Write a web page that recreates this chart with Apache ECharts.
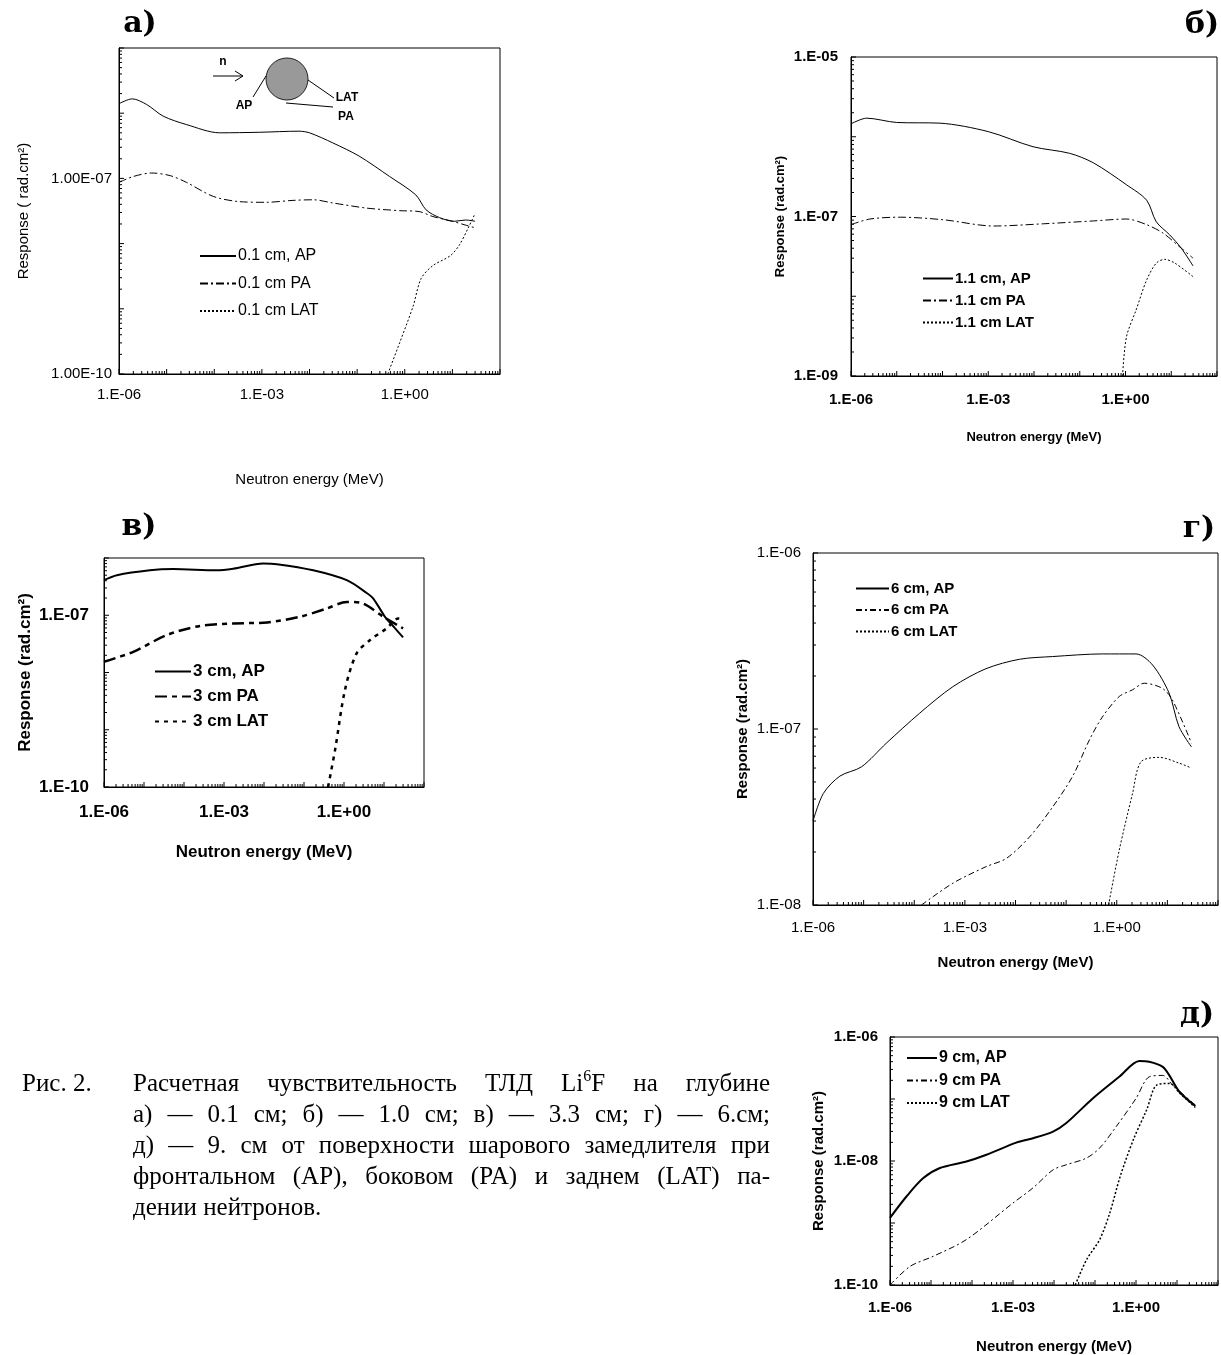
<!DOCTYPE html>
<html>
<head>
<meta charset="utf-8">
<script src="https://cdn.jsdelivr.net/npm/echarts@6/dist/echarts.min.js"></script>
<style>
  html, body { margin: 0; padding: 0; background: #fff; }
  #chart { position: absolute; left: 0; top: 0; width: 1221px; height: 1355px; }
  #caption { position: absolute; left: 0; top: 1067px; width: 1221px; font-family: 'Liberation Serif', 'DejaVu Serif', serif; font-size: 25px; line-height: 31px; color: #000; }
  #caption .fig { position: absolute; left: 22px; top: 0; white-space: nowrap; }
  #caption .body { position: absolute; left: 133px; top: 0; width: 637px; }
  #caption .j { text-align: justify; text-align-last: justify; }
  #caption sup { font-size: 16px; line-height: 0; vertical-align: 10px; }
</style>
</head>
<body>
<div id="chart"></div>
<div id="caption">
  <div class="fig">Рис. 2.</div>
  <div class="body">
    <div class="j">Расчетная чувствительность ТЛД Li<sup>6</sup>F на глубине</div>
    <div class="j">а) — 0.1 см; б) — 1.0 см; в) — 3.3 см; г) — 6.см;</div>
    <div class="j">д) — 9. см от поверхности шарового замедлителя при</div>
    <div class="j">фронтальном (AP), боковом (PA) и заднем (LAT) па-</div>
    <div>дении нейтронов.</div>
  </div>
</div>
<script>
// energy axis, shared by all panels (MeV)
const xMin = 1e-6, xMax = 1e2;
const xTickValues = [1e-6, 1e-3, 1e0];
const xTickLabels = ['1.E-06', '1.E-03', '1.E+00'];

// а) 0.1 cm
const aYTicks = [1e-10, 1e-7];
const aYLabels = ['1.00E-10', '1.00E-07'];
const aApE = [1.0e-6, 1.9e-6, 3.8e-6, 8.5e-6, 2.6e-5, 1.3e-4, 9e-4, 6e-3, 1e-2, 3.1e-2, 0.11, 0.48, 1.7, 2.8, 5.4, 11, 19, 30];
const aApR = [1.4e-6, 1.66e-6, 1.36e-6, 9.0e-7, 6.7e-7, 5.0e-7, 5.1e-7, 5.3e-7, 5.0e-7, 3.5e-7, 2.2e-7, 1.07e-7, 5.6e-8, 3.3e-8, 2.5e-8, 2.2e-8, 2.3e-8, 2.2e-8];
const aPaE = [1.0e-6, 2e-6, 4.8e-6, 1.2e-5, 2.6e-5, 9.5e-5, 3.4e-4, 1.25e-3, 4.5e-3, 1.2e-2, 3.1e-2, 0.16, 0.78, 2.0, 3.9, 10, 20, 30];
const aPaR = [8.7e-8, 1.07e-7, 1.21e-7, 1.10e-7, 8.7e-8, 5.3e-8, 4.4e-8, 4.3e-8, 4.6e-8, 4.7e-8, 4.2e-8, 3.5e-8, 3.2e-8, 3.1e-8, 2.6e-8, 2.2e-8, 1.9e-8, 1.75e-8];
const aLatE = [0.44, 0.78, 1.5, 2.2, 3.9, 9, 14, 22, 30];
const aLatR = [1.0e-10, 3.0e-10, 1.1e-9, 2.9e-9, 4.6e-9, 6.5e-9, 9.5e-9, 1.8e-8, 2.9e-8];

// б) 1.1 cm
const bYTicks = [1e-9, 1e-7, 1e-5];
const bYLabels = ['1.E-09', '1.E-07', '1.E-05'];
const bApE = [1e-6, 2.2e-6, 1e-5, 8.8e-5, 1e-3, 9.5e-3, 6e-2, 0.2, 1.05, 2.9, 4.7, 9.2, 16.6, 30];
const bApR = [1.45e-6, 1.71e-6, 1.51e-6, 1.48e-6, 1.16e-6, 7.5e-7, 6.2e-7, 4.7e-7, 2.5e-7, 1.6e-7, 8.6e-8, 5.9e-8, 4.0e-8, 2.4e-8];
const bPaE = [1e-6, 2.6e-6, 1.2e-5, 1.05e-4, 1.3e-3, 1.6e-2, 0.2, 1.05, 2.9, 6.6, 15, 30];
const bPaR = [7.9e-8, 9.3e-8, 9.8e-8, 9.1e-8, 7.6e-8, 8.1e-8, 8.8e-8, 9.3e-8, 7.9e-8, 6.2e-8, 4.2e-8, 3.0e-8];
const bLatE = [0.86, 1.05, 1.7, 2.9, 4.7, 7.2, 12, 30];
const bLatR = [1e-9, 3.1e-9, 6.7e-9, 1.6e-8, 2.6e-8, 2.9e-8, 2.6e-8, 1.76e-8];

// в) 3 cm
const cYTicks = [1e-10, 1e-7];
const cYLabels = ['1.E-10', '1.E-07'];
const cApE = [1e-6, 2.1e-6, 1.4e-5, 5.4e-5, 6.5e-4, 1.7e-3, 9.6e-3, 2.1e-2, 0.17, 1.17, 3.7, 5.4, 10.6, 19, 30];
const cApR = [4.1e-7, 5.0e-7, 6.1e-7, 6.4e-7, 6.1e-7, 6.5e-7, 8.0e-7, 7.8e-7, 6.1e-7, 4.1e-7, 2.45e-7, 1.96e-7, 9.4e-8, 5.9e-8, 4.1e-8];
const cPaE = [1e-6, 5.4e-6, 3.7e-5, 2.5e-4, 1.7e-3, 1.2e-2, 7.9e-2, 0.37, 1.17, 3.0, 9.6, 30];
const cPaR = [1.54e-8, 2.3e-8, 4.5e-8, 6.5e-8, 7.2e-8, 7.5e-8, 9.4e-8, 1.31e-7, 1.71e-7, 1.6e-7, 9.4e-8, 5.9e-8];
const cLatE = [0.40, 0.6, 1.06, 2.07, 4.5, 11.7, 22.8, 30];
const cLatR = [1e-10, 4.5e-10, 5.0e-9, 2.16e-8, 3.7e-8, 5.9e-8, 8.8e-8, 8.6e-8];

// г) 6 cm
const dYTicks = [1e-8, 1e-7, 1e-6];
const dYLabels = ['1.E-08', '1.E-07', '1.E-06'];
const dApE = [1e-6, 1.6e-6, 3.4e-6, 9.1e-6, 2.8e-5, 1.28e-4, 5.8e-4, 2.6e-3, 1.2e-2, 5.4e-2, 0.52, 2.4, 5.1, 10.8, 17, 30];
const dApR = [3.0e-8, 4.3e-8, 5.4e-8, 6.1e-8, 8.3e-8, 1.23e-7, 1.74e-7, 2.2e-7, 2.49e-7, 2.58e-7, 2.67e-7, 2.67e-7, 2.31e-7, 1.6e-7, 1.03e-7, 7.9e-8];
const dPaE = [1.39e-4, 5.8e-4, 2.6e-3, 6.6e-3, 1.9e-2, 5.4e-2, 0.135, 0.29, 0.52, 1.12, 2.05, 3.5, 8.0, 12.6, 30];
const dPaR = [1e-8, 1.33e-8, 1.65e-8, 1.84e-8, 2.44e-8, 3.6e-8, 5.4e-8, 8.7e-8, 1.17e-7, 1.53e-7, 1.67e-7, 1.82e-7, 1.7e-7, 1.46e-7, 8.3e-8];
const dLatE = [0.69, 1.12, 2.05, 3.0, 6.9, 17, 30];
const dLatR = [1e-8, 2.05e-8, 4.3e-8, 6.5e-8, 6.9e-8, 6.4e-8, 6.0e-8];

// д) 9 cm
const eYTicks = [1e-10, 1e-8, 1e-6];
const eYLabels = ['1.E-10', '1.E-08', '1.E-06'];
const eApE = [1e-6, 2.55e-6, 6.5e-6, 1.65e-5, 7.3e-5, 2.25e-4, 1.2e-3, 3.1e-3, 9.5e-3, 2e-2, 8.8e-2, 0.39, 1.21, 2.1, 4.5, 6.5, 11.4, 28];
const eApR = [1.21e-9, 2.7e-9, 5.3e-9, 7.7e-9, 9.8e-9, 1.26e-8, 1.98e-8, 2.33e-8, 2.98e-8, 4.1e-8, 1.02e-7, 2.28e-7, 4.1e-7, 4.0e-7, 3.3e-7, 2.4e-7, 1.31e-7, 7.7e-8];
const ePaE = [1e-6, 3.1e-6, 1.13e-5, 7.3e-5, 1e-3, 3.1e-3, 9.5e-3, 2e-2, 6.1e-2, 0.129, 0.33, 1.0, 2.1, 4.5, 7.8, 28];
const ePaR = [1e-10, 2.0e-10, 2.9e-10, 5.4e-10, 2.1e-9, 3.7e-9, 7.2e-9, 8.7e-9, 1.11e-8, 1.61e-8, 3.6e-8, 1.02e-7, 2.28e-7, 2.4e-7, 1.68e-7, 8.0e-8];
const eLatE = [3.3e-2, 6.3e-2, 0.13, 0.23, 0.41, 0.86, 1.82, 3.2, 6.7, 11.8, 28];
const eLatR = [1e-10, 2.6e-10, 5.4e-10, 1.46e-9, 5.6e-9, 2.2e-8, 6.7e-8, 1.68e-7, 1.78e-7, 1.23e-7, 7.3e-8];

const SANS = 'Liberation Sans, Arial, sans-serif';
const SERIF = 'DejaVu Serif, Liberation Serif, serif';

const panels = [
  {
    letter: 'а)', letterPos: [140, 24],
    grid: { left: 119, top: 48, width: 381, height: 326 },
    yMin: 1e-10, yMax: 1e-5, yTicks: aYTicks, yLabels: aYLabels,
    labelFont: { fontSize: 15, fontWeight: 'normal' }, xMargin: 13, yMargin: 7,
    xNameGap: 98, yName: 'Response ( rad.cm²)', yNameGap: 88,
    nameFont: { fontSize: 15, fontWeight: 'normal' },
    legend: { left: 199, top: 248, itemWidth: 36, itemGap: 11.5, fontSize: 16, fontWeight: 'normal' },
    lines: [
      { name: '0.1 cm, AP', x: aApE, y: aApR, type: 'solid', width: 1 },
      { name: '0.1 cm PA', x: aPaE, y: aPaR, type: [8, 3, 2, 3], width: 1 },
      { name: '0.1 cm LAT', x: aLatE, y: aLatR, type: [2, 2], width: 1 }
    ]
  },
  {
    letter: 'б)', letterPos: [1202, 25],
    grid: { left: 851, top: 57, width: 366, height: 319 },
    yMin: 1e-9, yMax: 1e-5, yTicks: bYTicks, yLabels: bYLabels,
    labelFont: { fontSize: 15, fontWeight: 'bold' }, xMargin: 16, yMargin: 13,
    xNameGap: 55, yName: 'Response (rad.cm²)', yNameGap: 64,
    nameFont: { fontSize: 13, fontWeight: 'bold' },
    legend: { left: 922, top: 271, itemWidth: 30, itemGap: 7, fontSize: 15, fontWeight: 'bold' },
    lines: [
      { name: '1.1 cm, AP', x: bApE, y: bApR, type: 'solid', width: 1 },
      { name: '1.1 cm PA', x: bPaE, y: bPaR, type: [8, 3, 2, 3], width: 1 },
      { name: '1.1 cm LAT', x: bLatE, y: bLatR, type: [2, 2], width: 1 }
    ]
  },
  {
    letter: 'в)', letterPos: [139, 527],
    grid: { left: 104, top: 558, width: 320, height: 229 },
    yMin: 1e-10, yMax: 1e-6, yTicks: cYTicks, yLabels: cYLabels,
    labelFont: { fontSize: 17, fontWeight: 'bold' }, xMargin: 17, yMargin: 15,
    xNameGap: 57, yName: 'Response (rad.cm²)', yNameGap: 70,
    nameFont: { fontSize: 17, fontWeight: 'bold' },
    legend: { left: 154, top: 663, itemWidth: 36, itemGap: 8, fontSize: 17, fontWeight: 'bold' },
    lines: [
      { name: '3 cm, AP', x: cApE, y: cApR, type: 'solid', width: 2 },
      { name: '3 cm PA', x: cPaE, y: cPaR, type: [12, 5, 5, 5], width: 2.5 },
      { name: '3 cm LAT', x: cLatE, y: cLatR, type: [4, 5], width: 2.5 }
    ]
  },
  {
    letter: 'г)', letterPos: [1199, 529],
    grid: { left: 813, top: 553, width: 406, height: 352 },
    yMin: 1e-8, yMax: 1e-6, yTicks: dYTicks, yLabels: dYLabels,
    labelFont: { fontSize: 15, fontWeight: 'normal' }, xMargin: 15, yMargin: 12,
    xNameGap: 50, yName: 'Response (rad.cm²)', yNameGap: 63,
    nameFont: { fontSize: 15, fontWeight: 'bold' },
    legend: { left: 855, top: 581, itemWidth: 33, itemGap: 6.5, fontSize: 15, fontWeight: 'bold' },
    lines: [
      { name: '6 cm, AP', x: dApE, y: dApR, type: 'solid', width: 1 },
      { name: '6 cm PA', x: dPaE, y: dPaR, type: [6, 3, 2, 3], width: 1 },
      { name: '6 cm LAT', x: dLatE, y: dLatR, type: [2, 2], width: 1 }
    ]
  },
  {
    letter: 'д)', letterPos: [1197, 1015],
    grid: { left: 890, top: 1037, width: 328, height: 249 },
    yMin: 1e-10, yMax: 1e-6, yTicks: eYTicks, yLabels: eYLabels,
    labelFont: { fontSize: 15, fontWeight: 'bold' }, xMargin: 15, yMargin: 12,
    xNameGap: 54, yName: 'Response (rad.cm²)', yNameGap: 64,
    nameFont: { fontSize: 15, fontWeight: 'bold' },
    legend: { left: 906, top: 1050, itemWidth: 30, itemGap: 6.5, fontSize: 16, fontWeight: 'bold' },
    lines: [
      { name: '9 cm, AP', x: eApE, y: eApR, type: 'solid', width: 2 },
      { name: '9 cm PA', x: ePaE, y: ePaR, type: [6, 3, 2, 3], width: 1 },
      { name: '9 cm LAT', x: eLatE, y: eLatR, type: [2, 2], width: 1.5 }
    ]
  }
];

function labelFor(v, vals, labels) {
  const lv = Math.log10(v);
  for (let i = 0; i < vals.length; i++) {
    if (Math.abs(Math.log10(vals[i]) - lv) < 1e-6) return labels[i];
  }
  return '';
}

// 1..9 x 10^k marks for a log axis
function logTicks(min, max) {
  const out = [];
  const lo = Math.round(Math.log10(min)), hi = Math.round(Math.log10(max));
  for (let k = lo; k <= hi; k++) {
    for (let m = 1; m <= 9; m++) {
      if (k === hi && m > 1) break;
      out.push({ v: m * Math.pow(10, k), major: m === 1 });
    }
  }
  return out;
}

const grids = [], xAxes = [], yAxes = [], series = [], legends = [], graphics = [];

panels.forEach(function (p, gi) {
  grids.push(Object.assign({ show: true, borderColor: '#000', borderWidth: 1 }, p.grid));

  xAxes.push({
    type: 'log', gridIndex: gi, min: xMin, max: xMax,
    axisLine: { show: true, lineStyle: { color: '#000', width: 1 } },
    axisTick: { show: false }, splitLine: { show: false },
    axisLabel: Object.assign({ color: '#000', fontFamily: SANS, margin: p.xMargin,
      formatter: function (v) { return labelFor(v, xTickValues, xTickLabels); } }, p.labelFont),
    name: 'Neutron energy (MeV)', nameLocation: 'middle', nameGap: p.xNameGap,
    nameTextStyle: Object.assign({ color: '#000', fontFamily: SANS }, p.nameFont)
  });

  yAxes.push({
    type: 'log', gridIndex: gi, min: p.yMin, max: p.yMax,
    axisLine: { show: true, lineStyle: { color: '#000', width: 1 } },
    axisTick: { show: false }, splitLine: { show: false },
    axisLabel: Object.assign({ color: '#000', fontFamily: SANS, margin: p.yMargin,
      formatter: function (v) { return labelFor(v, p.yTicks, p.yLabels); } }, p.labelFont),
    name: p.yName, nameLocation: 'middle', nameGap: p.yNameGap,
    nameTextStyle: Object.assign({ color: '#000', fontFamily: SANS }, p.nameFont)
  });

  p.lines.forEach(function (s) {
    series.push({
      type: 'line', name: s.name, xAxisIndex: gi, yAxisIndex: gi,
      data: s.x.map(function (e, i) { return [e, s.y[i]]; }),
      smooth: 0.3, showSymbol: false, symbol: 'none',
      lineStyle: { color: '#000', width: s.width, type: s.type },
      itemStyle: { color: '#000' }
    });
  });

  // inward log ticks on bottom and left axes
  const xt = logTicks(xMin, xMax), yt = logTicks(p.yMin, p.yMax);
  series.push({
    type: 'custom', xAxisIndex: gi, yAxisIndex: gi, silent: true, z: 3,
    data: [[xMin, p.yMin]],
    renderItem: function (params, api) {
      const children = [];
      xt.forEach(function (t) {
        const c = api.coord([t.v, p.yMin]);
        children.push({ type: 'line', shape: { x1: c[0], y1: c[1], x2: c[0], y2: c[1] - (t.major ? 5 : 3) },
          style: { stroke: '#000', lineWidth: 1 } });
      });
      yt.forEach(function (t) {
        const c = api.coord([xMin, t.v]);
        children.push({ type: 'line', shape: { x1: c[0], y1: c[1], x2: c[0] + (t.major ? 5 : 3), y2: c[1] },
          style: { stroke: '#000', lineWidth: 1 } });
      });
      return { type: 'group', children: children };
    }
  });

  legends.push({
    orient: 'vertical', left: p.legend.left, top: p.legend.top, padding: 0,
    itemWidth: p.legend.itemWidth, itemHeight: 14, itemGap: p.legend.itemGap,
    data: p.lines.map(function (s) { return s.name; }),
    itemStyle: { opacity: 0 },
    textStyle: { color: '#000', fontFamily: SANS, fontSize: p.legend.fontSize, fontWeight: p.legend.fontWeight, padding: [0, 0, 0, -3] },
    selectedMode: false
  });

  graphics.push({
    type: 'text', x: p.letterPos[0], y: p.letterPos[1],
    style: { text: p.letter, font: 'bold 30px ' + SERIF, fill: '#000', align: 'center', verticalAlign: 'middle' }
  });
});

// sphere sketch in panel а)
graphics.push(
  { type: 'circle', shape: { cx: 287, cy: 79, r: 21 }, style: { fill: '#999', stroke: '#222', lineWidth: 1 } },
  { type: 'line', shape: { x1: 213, y1: 76, x2: 243, y2: 76 }, style: { stroke: '#000', lineWidth: 1 } },
  { type: 'polyline', shape: { points: [[235, 71], [243, 76], [235, 81]] }, style: { stroke: '#000', fill: null, lineWidth: 1 } },
  { type: 'text', x: 223, y: 62, style: { text: 'n', font: 'bold 12px ' + SANS, fill: '#000', align: 'center', verticalAlign: 'middle' } },
  { type: 'line', shape: { x1: 253, y1: 97, x2: 266, y2: 76 }, style: { stroke: '#000', lineWidth: 1 } },
  { type: 'text', x: 244, y: 106, style: { text: 'AP', font: 'bold 12px ' + SANS, fill: '#000', align: 'center', verticalAlign: 'middle' } },
  { type: 'line', shape: { x1: 308, y1: 80, x2: 334, y2: 98 }, style: { stroke: '#000', lineWidth: 1 } },
  { type: 'text', x: 347, y: 98, style: { text: 'LAT', font: 'bold 12px ' + SANS, fill: '#000', align: 'center', verticalAlign: 'middle' } },
  { type: 'line', shape: { x1: 286, y1: 103, x2: 333, y2: 107 }, style: { stroke: '#000', lineWidth: 1 } },
  { type: 'text', x: 346, y: 117, style: { text: 'PA', font: 'bold 12px ' + SANS, fill: '#000', align: 'center', verticalAlign: 'middle' } }
);

const chart = echarts.init(document.getElementById('chart'), null, { renderer: 'canvas' });
chart.setOption({
  animation: false,
  backgroundColor: '#fff',
  grid: grids,
  xAxis: xAxes,
  yAxis: yAxes,
  legend: legends,
  graphic: graphics,
  series: series
});
</script>
</body>
</html>
